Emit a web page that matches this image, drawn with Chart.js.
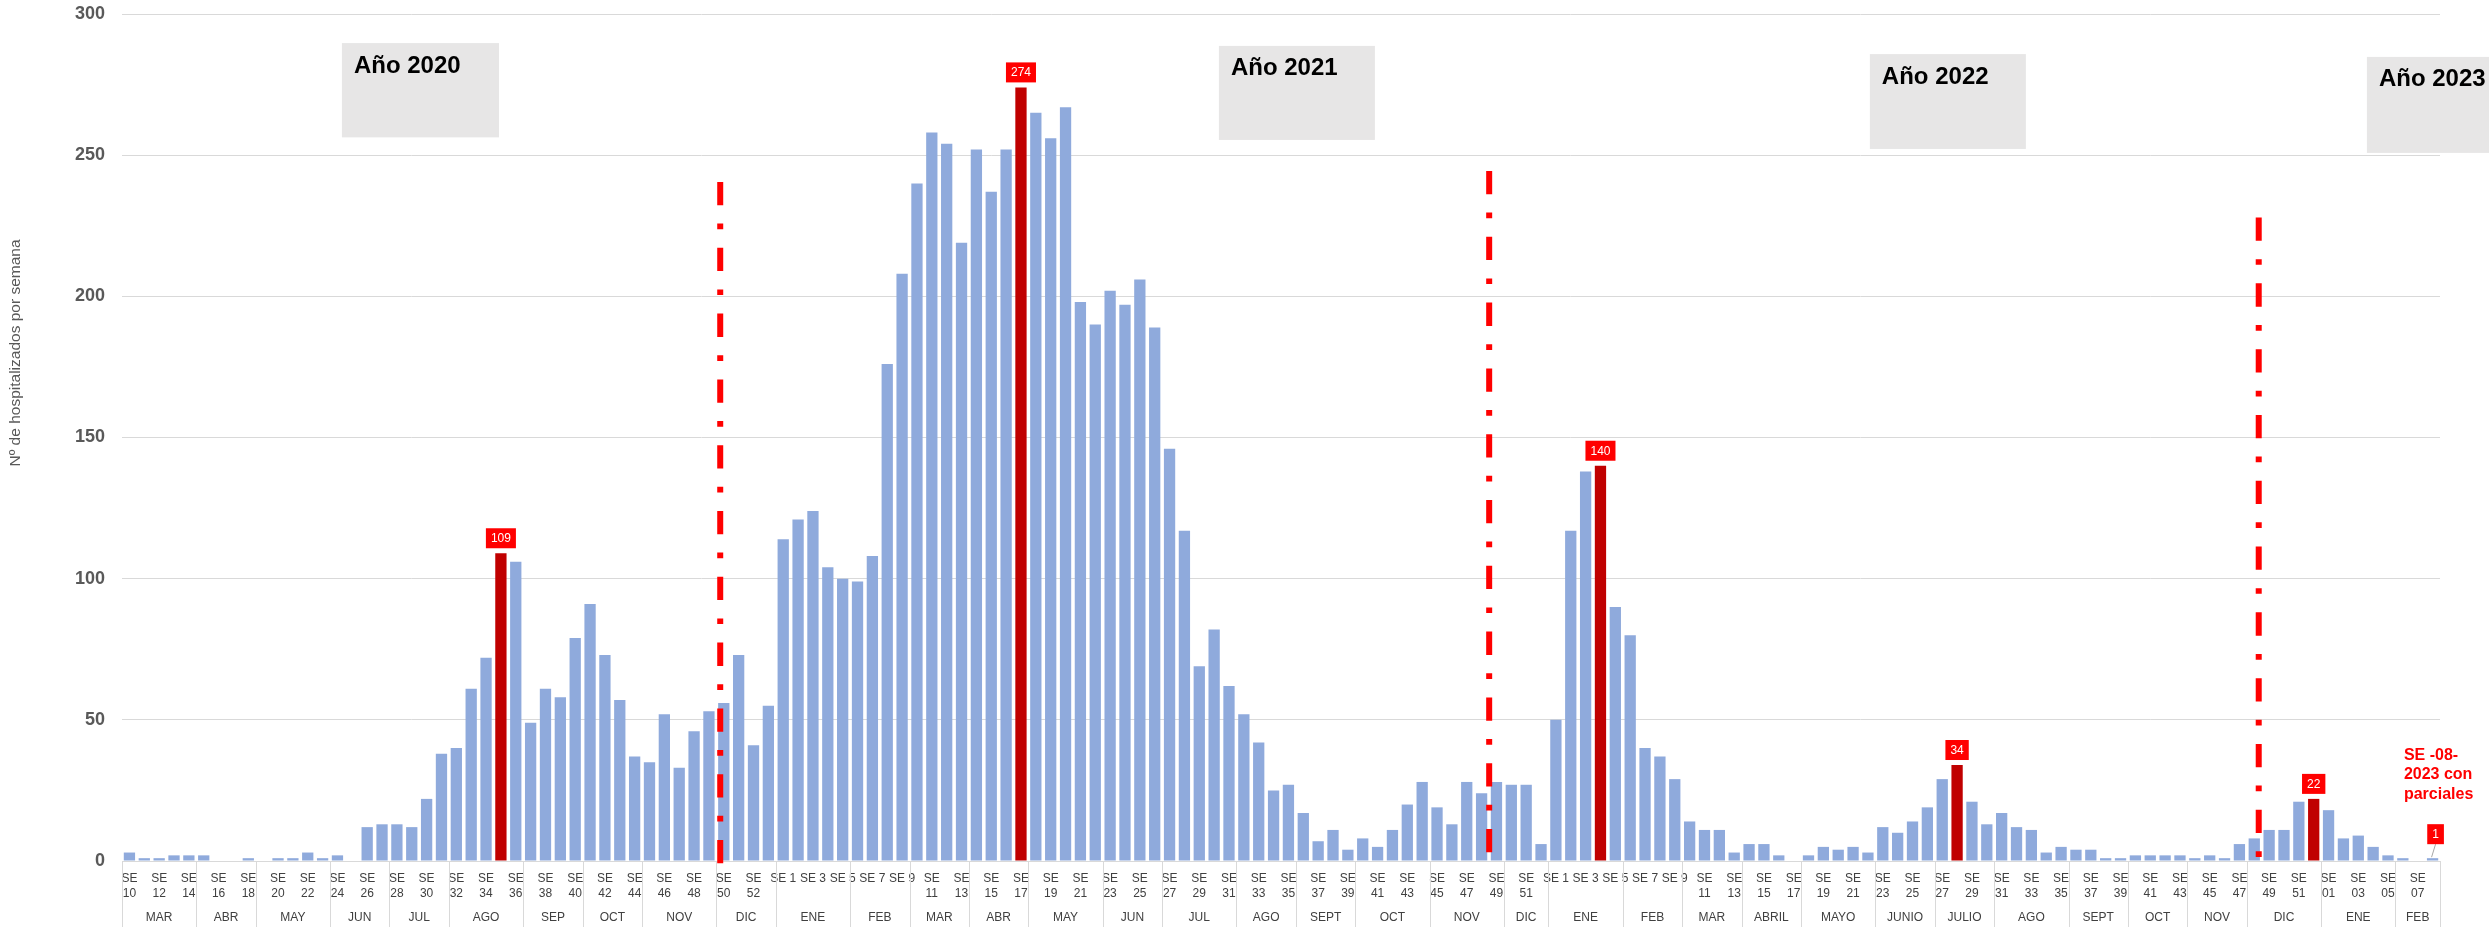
<!DOCTYPE html>
<html>
<head>
<meta charset="utf-8">
<script src="https://cdn.jsdelivr.net/npm/chart.js@4.4.1/dist/chart.umd.min.js"></script>
<style>
html,body{margin:0;padding:0;background:#ffffff;}
#wrap{width:2489px;height:931px;position:relative;}
</style>
</head>
<body>
<div id="wrap"><canvas id="c"></canvas></div>
<script>
const FONT = "'Liberation Sans', Arial, Helvetica, sans-serif";

// ---- Data ----
const weeks2020 = [10,11,12,13,14,15,16,17,18,19,20,21,22,23,24,25,26,27,28,29,30,31,32,33,34,35,36,37,38,39,40,41,42,43,44,45,46,47,48,49,50,51,52,53];
const cases2020 = [3,1,1,2,2,2,0,0,1,0,1,1,3,1,2,0,12,13,13,12,22,38,40,61,72,109,106,49,61,58,79,91,73,57,37,35,52,33,46,53,56,73,41,55];

const weeks2021 = [1,2,3,4,5,6,7,8,9,10,11,12,13,14,15,16,17,18,19,20,21,22,23,24,25,26,27,28,29,30,31,32,33,34,35,36,37,38,39,40,41,42,43,44,45,46,47,48,49,50,51,52];
const cases2021 = [114,121,124,104,100,99,108,176,208,240,258,254,219,252,237,252,274,265,256,267,198,190,202,197,206,189,146,117,69,82,62,52,42,25,27,17,7,11,4,8,5,11,20,28,19,13,28,24,28,27,27,6];

const weeks2022 = [1,2,3,4,5,6,7,8,9,10,11,12,13,14,15,16,17,18,19,20,21,22,23,24,25,26,27,28,29,30,31,32,33,34,35,36,37,38,39,40,41,42,43,44,45,46,47,48,49,50,51,52];
const cases2022 = [50,117,138,140,90,80,40,37,29,14,11,11,3,6,6,2,0,2,5,4,5,3,12,10,14,19,29,34,21,13,17,12,11,3,5,4,4,1,1,2,2,2,2,1,2,1,6,8,11,11,21,22];

const weeks2023 = ['01','02','03','04','05','06','07','08'];
const cases2023 = [18,8,9,5,2,1,0,1];

const months2020 = ['MAR','ABR','MAY','JUN','JUL','AGO','SEP','OCT','NOV','DIC'];
const monthLen2020 = [5,4,5,4,4,5,4,4,5,4];
const months2021 = ['ENE','FEB','MAR','ABR','MAY','JUN','JUL','AGO','SEPT','OCT','NOV','DIC'];
const monthLen2021 = [5,4,4,4,5,4,5,4,4,5,5,3];
const months2022 = ['ENE','FEB','MAR','ABRIL','MAYO','JUNIO','JULIO','AGO','SEPT','OCT','NOV','DIC'];
const monthLen2022 = [5,4,4,4,5,4,4,5,4,4,4,5];
const months2023 = ['ENE','FEB'];
const monthLen2023 = [5,3];

const peakWeeks = ['2020-35','2021-17','2022-4','2022-28','2022-52'];
const labelledWeeks = ['2020-35','2021-17','2022-4','2022-28','2022-52','2023-08'];
const yearTitles = ['Año 2020','Año 2021','Año 2022','Año 2023'];
const yAxisTitle = 'Nº de hospitalizados por semana';
const noteLines = ['SE -08-','2023 con','parciales'];

// ---- Build category table ----
const categories = [], tickLabels = [], values = [];
[[2020,weeks2020,cases2020],[2021,weeks2021,cases2021],[2022,weeks2022,cases2022],[2023,weeks2023,cases2023]]
  .forEach(([yr,wk,cs]) => wk.forEach((w,i) => {
    categories.push(yr + '-' + w);
    tickLabels.push('SE ' + w);
    values.push(cs[i]);
  }));
const monthNames = [].concat(months2020, months2021, months2022, months2023);
const monthLens = [].concat(monthLen2020, monthLen2021, monthLen2022, monthLen2023);

const BLUE = '#8FAADC', DARKRED = '#C00000', RED = '#FF0000';
const barColors = categories.map(c => peakWeeks.includes(c) ? DARKRED : BLUE);

// ---- Annotation placement (in scale units) ----
const yearBoxes = [
  {from:14.30, to:24.87, top:289.7, bottom:256.3},
  {from:73.32, to:83.82, top:288.7, bottom:255.4},
  {from:117.13, to:127.63, top:285.8, bottom:252.2},
  {from:150.58, to:162.0, top:284.8, bottom:250.8}
];
const separators = [
  {at:39.76, top:240.5},
  {at:91.51, top:244.4},
  {at:143.3, top:227.9}
];
const labelOffsets = {'2023-08': {dx:3, dy:14, leader:true}};

const overlay = {
  id: 'overlay',
  beforeDatasetsDraw(chart) {
    const {ctx, scales:{x, y}} = chart;
    ctx.save();
    yearBoxes.forEach((b, i) => {
      const x0 = x.getPixelForValue(b.from), x1 = x.getPixelForValue(b.to);
      const y0 = y.getPixelForValue(b.top), y1 = y.getPixelForValue(b.bottom);
      ctx.fillStyle = '#E7E6E6';
      ctx.fillRect(x0, y0, x1 - x0, y1 - y0);
      ctx.fillStyle = '#000000';
      ctx.font = 'bold 24px ' + FONT;
      ctx.textAlign = 'left';
      ctx.textBaseline = 'alphabetic';
      ctx.fillText(yearTitles[i], x0 + 12, y0 + 29.5);
    });
    ctx.restore();
  },
  afterDatasetsDraw(chart) {
    const {ctx, scales:{x, y}} = chart;
    const base = y.getPixelForValue(0);
    ctx.save();
    ctx.strokeStyle = RED;
    ctx.lineWidth = 6;
    ctx.lineCap = 'butt';
    ctx.setLineDash([23.3, 18.3, 5.7, 18.5]);
    separators.forEach(s => {
      const px = x.getPixelForValue(s.at);
      ctx.beginPath();
      ctx.moveTo(px, y.getPixelForValue(s.top));
      ctx.lineTo(px, base + 4);
      ctx.stroke();
    });
    ctx.setLineDash([]);
    const meta = chart.getDatasetMeta(0);
    ctx.font = '12px ' + FONT;
    ctx.textAlign = 'center';
    ctx.textBaseline = 'middle';
    labelledWeeks.forEach(key => {
      const idx = categories.indexOf(key);
      const el = meta.data[idx];
      const off = labelOffsets[key] || {dx:0, dy:5, leader:false};
      const txt = String(values[idx]);
      const w = ctx.measureText(txt).width + 10, h = 20;
      const cx = el.x + off.dx, bottom = el.y - off.dy;
      if (off.leader) {
        ctx.strokeStyle = '#A6A6A6';
        ctx.lineWidth = 1;
        ctx.beginPath();
        ctx.moveTo(cx, bottom);
        ctx.lineTo(el.x - 1, el.y - 1);
        ctx.stroke();
      }
      ctx.fillStyle = RED;
      ctx.fillRect(cx - w / 2, bottom - h, w, h);
      ctx.fillStyle = '#FFFFFF';
      ctx.fillText(txt, cx, bottom - h / 2 + 0.5);
    });
    ctx.restore();
  },
  afterDraw(chart) {
    const {ctx, scales:{x, y}, chartArea} = chart;
    const base = chartArea.bottom;
    ctx.save();
    ctx.strokeStyle = '#D9D9D9';
    ctx.lineWidth = 1;
    ctx.font = '12px ' + FONT;
    ctx.fillStyle = '#404040';
    ctx.textAlign = 'center';
    ctx.textBaseline = 'middle';
    let start = 0;
    const drawSep = px => {
      ctx.beginPath();
      ctx.moveTo(Math.round(px) + 0.5, base);
      ctx.lineTo(Math.round(px) + 0.5, base + 66);
      ctx.stroke();
    };
    drawSep(x.getPixelForValue(-0.5));
    monthNames.forEach((m, i) => {
      const end = start + monthLens[i];
      const p0 = x.getPixelForValue(start - 0.5), p1 = x.getPixelForValue(end - 0.5);
      drawSep(p1);
      ctx.fillText(m, (p0 + p1) / 2, base + 57);
      start = end;
    });
    ctx.save();
    ctx.translate(16, 353);
    ctx.rotate(-Math.PI / 2);
    ctx.font = '15.5px ' + FONT;
    ctx.fillStyle = '#595959';
    ctx.textAlign = 'center';
    ctx.textBaseline = 'middle';
    ctx.fillText(yAxisTitle, 0, 0);
    ctx.restore();
    ctx.font = 'bold 16px ' + FONT;
    ctx.fillStyle = RED;
    ctx.textAlign = 'left';
    ctx.textBaseline = 'alphabetic';
    const nx = x.getPixelForValue(153.07), ny = y.getPixelForValue(35.95);
    noteLines.forEach((t, i) => ctx.fillText(t, nx, ny + i * 19.5));
    ctx.restore();
  }
};

new Chart(document.getElementById('c'), {
  type: 'bar',
  data: {
    labels: categories,
    datasets: [{
      data: values,
      backgroundColor: barColors,
      borderWidth: 0,
      categoryPercentage: 1.0,
      barPercentage: 0.76
    }]
  },
  options: {
    responsive: true,
    maintainAspectRatio: false,
    animation: false,
    devicePixelRatio: 1,
    layout: {padding: {top: 0, right: 49, left: 0, bottom: 0}},
    plugins: {legend: {display: false}, tooltip: {enabled: false}},
    scales: {
      x: {
        grid: {display: false, drawTicks: false},
        border: {display: true, color: '#D9D9D9', width: 1},
        ticks: {
          autoSkip: false,
          maxRotation: 0,
          minRotation: 0,
          padding: 10,
          color: '#404040',
          font: {family: FONT, size: 12, lineHeight: 1.25},
          callback: (v, i) => {
            if (i % 2) return '';
            const parts = tickLabels[i].split(' ');
            return parts[1].length >= 2 ? parts : tickLabels[i];
          }
        },
        afterFit: s => { s.height = 70; }
      },
      y: {
        min: 0,
        max: 300,
        grid: {color: '#D9D9D9', lineWidth: 1, drawTicks: false},
        border: {display: false},
        ticks: {
          stepSize: 50,
          padding: 17,
          color: '#595959',
          font: {family: FONT, size: 18, weight: 'bold'}
        },
        afterFit: s => { s.width = 122; s.paddingTop = 14; s.paddingBottom = 0; }
      }
    }
  },
  plugins: [overlay]
});
</script>
</body>
</html>
